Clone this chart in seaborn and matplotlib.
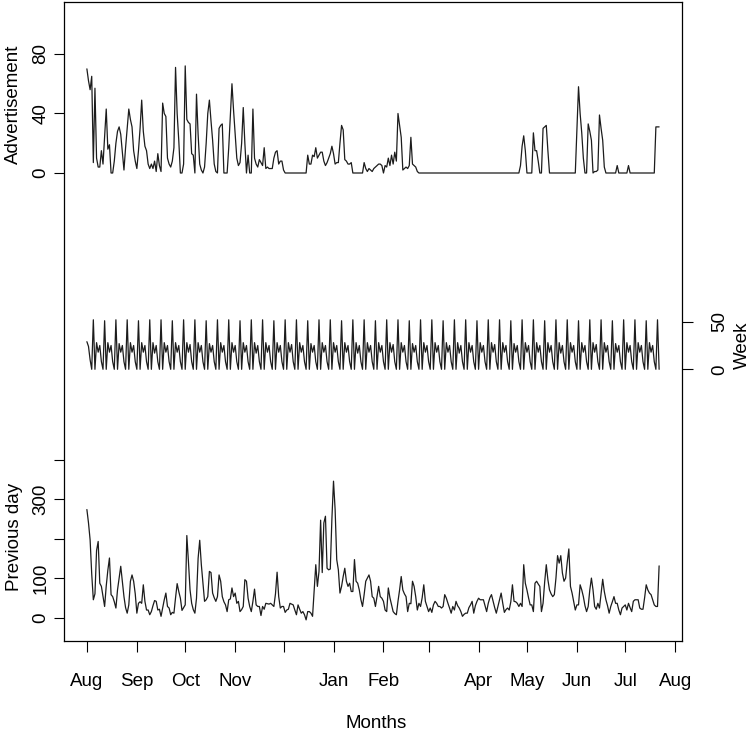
"""
Daily series in one R-style panel: advertisement, weekly pattern and
previous-day counts, each with its own y scale stacked in the same box.
"""
import pandas as pd
import matplotlib
matplotlib.use("Agg")
import matplotlib.pyplot as plt
import seaborn as sns

# ==========================================
# data (daily, starting 2010-08-01)
# ==========================================
START = "2010-08-01"

advertisement = [
    70, 62, 56, 65, 7, 57, 10, 4, 4, 15,
    6, 24, 43, 16, 19, 0, 0, 8, 20, 28,
    31, 26, 14, 2, 17, 30, 43, 36, 31, 15,
    8, 3, 15, 30, 49, 28, 18, 15, 6, 3,
    6, 3, 8, 1, 13, 5, 1, 47, 40, 38,
    10, 6, 4, 8, 17, 71, 40, 22, 0, 0,
    6, 72, 36, 34, 33, 13, 12, 0, 53, 26,
    6, 2, 0, 4, 20, 40, 49, 35, 22, 6,
    1, 0, 30, 32, 33, 0, 0, 0, 17, 38,
    60, 42, 26, 10, 5, 7, 20, 44, 20, 0,
    12, 0, 0, 43, 10, 6, 4, 9, 7, 5,
    17, 3, 4, 3, 3, 3, 10, 14, 15, 6,
    8, 8, 2, 0, 0, 0, 0, 0, 0, 0,
    0, 0, 0, 0, 0, 0, 0, 12, 6, 6,
    12, 11, 17, 10, 12, 14, 14, 8, 5, 7,
    10, 13, 18, 13, 6, 7, 7, 20, 32, 29,
    9, 8, 6, 6, 7, 0, 0, 0, 0, 0,
    0, 0, 7, 3, 1, 3, 2, 1, 3, 4,
    5, 6, 6, 5, 0, 5, 4, 10, 5, 12,
    6, 14, 8, 40, 32, 24, 2, 3, 4, 3,
    5, 24, 6, 5, 4, 1, 0, 0, 0, 0,
    0, 0, 0, 0, 0, 0, 0, 0, 0, 0,
    0, 0, 0, 0, 0, 0, 0, 0, 0, 0,
    0, 0, 0, 0, 0, 0, 0, 0, 0, 0,
    0, 0, 0, 0, 0, 0, 0, 0, 0, 0,
    0, 0, 0, 0, 0, 0, 0, 0, 0, 0,
    0, 0, 0, 0, 0, 0, 0, 0, 0, 5,
    18, 25, 15, 0, 0, 0, 0, 27, 15, 15,
    8, 0, 0, 30, 31, 32, 15, 0, 0, 0,
    0, 0, 0, 0, 0, 0, 0, 0, 0, 0,
    0, 0, 0, 0, 30, 58, 40, 27, 10, 0,
    0, 33, 28, 22, 0, 1, 1, 2, 39, 30,
    22, 4, 0, 0, 0, 0, 0, 0, 0, 5,
    0, 0, 0, 0, 0, 0, 5, 0, 0, 0,
    0, 0, 0, 0, 0, 0, 0, 0, 0, 0,
    0, 0, 0, 31, 31, 31,
]

week = [
    29, 24, 10, 0,
    52, 0, 28, 18, 25, 8, 0,
    51, 0, 28, 18, 25, 8, 0,
    52, 0, 27, 18, 25, 8, 0,
    52, 0, 28, 18, 25, 8, 0,
    51, 0, 28, 18, 25, 8, 0,
    52, 0, 28, 17, 25, 8, 0,
    52, 0, 28, 18, 25, 8, 0,
    51, 0, 28, 18, 25, 8, 0,
    52, 0, 28, 18, 26, 8, 0,
    52, 0, 28, 18, 25, 8, 0,
    51, 0, 27, 18, 25, 8, 0,
    52, 0, 28, 18, 25, 8, 0,
    52, 0, 28, 18, 25, 8, 0,
    51, 0, 28, 18, 25, 8, 0,
    52, 0, 28, 17, 25, 8, 0,
    52, 0, 28, 18, 25, 8, 0,
    51, 0, 28, 18, 25, 8, 0,
    52, 0, 28, 18, 26, 8, 0,
    52, 0, 28, 18, 25, 8, 0,
    51, 0, 27, 18, 25, 8, 0,
    52, 0, 28, 18, 25, 8, 0,
    52, 0, 28, 18, 25, 8, 0,
    51, 0, 28, 18, 25, 8, 0,
    52, 0, 28, 17, 25, 8, 0,
    52, 0, 28, 18, 25, 8, 0,
    51, 0, 28, 18, 25, 8, 0,
    52, 0, 28, 18, 26, 8, 0,
    52, 0, 28, 18, 25, 8, 0,
    51, 0, 27, 18, 25, 8, 0,
    52, 0, 28, 18, 25, 8, 0,
    52, 0, 28, 18, 25, 8, 0,
    51, 0, 28, 18, 25, 8, 0,
    52, 0, 28, 17, 25, 8, 0,
    52, 0, 28, 18, 25, 8, 0,
    51, 0, 28, 18, 25, 8, 0,
    52, 0, 28, 18, 26, 8, 0,
    52, 0, 28, 18, 25, 8, 0,
    51, 0, 27, 18, 25, 8, 0,
    52, 0, 28, 18, 25, 8, 0,
    52, 0, 28, 18, 25, 8, 0,
    51, 0, 28, 18, 25, 8, 0,
    52, 0, 28, 17, 25, 8, 0,
    52, 0, 28, 18, 25, 8, 0,
    51, 0, 28, 18, 25, 8, 0,
    52, 0, 28, 18, 26, 8, 0,
    52, 0, 28, 18, 25, 8, 0,
    51, 0, 27, 18, 25, 8, 0,
    52, 0, 28, 18, 25, 8, 0,
    52, 0, 28, 18, 25, 8, 0,
    51, 0, 28, 18, 25, 8, 0,
    52, 0,
]

previous_day = [
    274, 240, 197, 110, 45, 60, 170, 193, 87, 79,
    53, 28, 80, 120, 151, 58, 53, 40, 24, 70,
    100, 130, 92, 53, 25, 11, 32, 92, 108, 92,
    60, 11, 36, 40, 36, 83, 41, 19, 19, 7,
    15, 30, 43, 41, 19, 21, 3, 24, 45, 62,
    28, 24, 7, 13, 11, 50, 86, 66, 49, 18,
    25, 32, 208, 142, 70, 36, 20, 11, 49, 150,
    196, 134, 87, 41, 45, 53, 117, 114, 62, 50,
    41, 53, 108, 92, 53, 40, 32, 15, 45, 47,
    75, 53, 62, 36, 41, 15, 20, 28, 96, 92,
    49, 28, 15, 41, 72, 32, 28, 28, 5, 28,
    21, 36, 35, 34, 36, 32, 28, 60, 115, 53,
    24, 28, 28, 13, 19, 21, 36, 34, 32, 19,
    7, 32, 21, 11, 15, 7, -6, 15, 15, 11,
    3, 70, 134, 79, 117, 247, 114, 240, 257, 125,
    121, 123, 250, 346, 274, 147, 121, 62, 79, 104,
    125, 92, 79, 87, 66, 66, 147, 92, 87, 70,
    45, 28, 58, 92, 100, 108, 92, 53, 49, 28,
    53, 79, 53, 49, 41, 19, 15, 75, 50, 32,
    15, 10, 7, 41, 70, 104, 70, 60, 53, 15,
    36, 35, 92, 79, 53, 19, 36, 28, 50, 83,
    41, 28, 15, 24, 13, 32, 41, 36, 28, 28,
    24, 28, 58, 49, 36, 24, 11, 28, 19, 41,
    30, 24, 15, 3, 8, 11, 11, 25, 32, 41,
    11, 30, 41, 49, 45, 45, 45, 30, 15, 36,
    50, 58, 41, 25, 11, 28, 45, 62, 36, 13,
    20, 24, 19, 40, 83, 41, 40, 36, 28, 36,
    28, 134, 87, 70, 50, 32, 32, 15, 87, 92,
    85, 79, 15, 36, 90, 134, 96, 70, 60, 53,
    58, 100, 157, 138, 157, 113, 92, 100, 140, 174,
    79, 62, 40, 19, 32, 32, 83, 70, 53, 30,
    15, 28, 70, 100, 70, 28, 21, 36, 24, 60,
    97, 66, 45, 30, 11, 28, 40, 53, 36, 36,
    19, 7, 24, 28, 32, 19, 36, 25, 15, 41,
    45, 45, 45, 24, 21, 21, 50, 83, 70, 62,
    58, 45, 32, 28, 28, 131,
]

month_labels = ["Aug", "Sep", "Oct", "Nov", "", "Jan", "Feb", "",
                "Apr", "May", "Jun", "Jul", "Aug"]
adv_ticks = [0, 40, 80]
week_ticks = [0, 50]
prev_ticks = [0, 100, 200, 300, 400]
prev_labels = ["0", "100", "", "300", ""]

# ==========================================
# layout (pixels of the 753x736 output)
# ==========================================
W, H = 753, 736
BOX_L, BOX_R, BOX_T, BOX_B = 64, 682, 2, 641
LINE = "#1c1c1c"
FS = 13.5


def ylims(zero_px, px_per_unit):
    """y limits so that value 0 sits at zero_px (from the top of the image)."""
    return (-(BOX_B - zero_px) / px_per_unit, (zero_px - BOX_T) / px_per_unit)


def ax_coords(x_px, y_px):
    return ((x_px - BOX_L) / (BOX_R - BOX_L), (BOX_B - y_px) / (BOX_B - BOX_T))


sns.set_style("ticks")
plt.rcParams["font.family"] = ["Liberation Sans", "DejaVu Sans"]
plt.rcParams["text.color"] = "black"
plt.rcParams["axes.labelcolor"] = "black"

fig = plt.figure(figsize=(W / 100, H / 100), dpi=100)
rect = [BOX_L / W, 1 - BOX_B / H, (BOX_R - BOX_L) / W, (BOX_B - BOX_T) / H]
ax_prev = fig.add_axes(rect)
ax_week = fig.add_axes(rect, sharex=ax_prev)
ax_adv = fig.add_axes(rect, sharex=ax_prev)

series = [(ax_adv, advertisement), (ax_week, week), (ax_prev, previous_day)]
for ax, vals in series:
    d = pd.date_range(START, periods=len(vals), freq="D")
    sns.lineplot(x=d, y=vals, ax=ax, color=LINE, linewidth=0.9, estimator=None)
    ax.set_xlabel("")

dates = pd.date_range(START, periods=len(previous_day), freq="D")
pad = (dates[-1] - dates[0]) * 0.04
ax_prev.set_xlim(dates[0] - pad, dates[-1] + pad)

ax_adv.set_ylim(*ylims(173, 59.5 / 40))
ax_week.set_ylim(*ylims(369.3, 47.6 / 50))
ax_prev.set_ylim(*ylims(617.5, 39.4 / 100))

# box + x axis on the bottom layer
for s in ax_prev.spines.values():
    s.set_visible(True)
    s.set_color("black")
    s.set_linewidth(0.9)
month_ticks = pd.date_range("2010-08-01", periods=len(month_labels), freq="MS")
ax_prev.set_xticks(month_ticks)
ax_prev.set_xticklabels(month_labels)
ax_prev.tick_params(axis="x", bottom=True, length=8, width=0.8, pad=15,
                    labelsize=FS, colors="black")
ax_prev.set_xlabel("Months", fontsize=FS, color="black")
ax_prev.xaxis.set_label_coords(*ax_coords(376, 724))
ax_prev.xaxis.label.set_va("center")

ax_prev.set_yticks(prev_ticks)
ax_prev.set_yticklabels(prev_labels)
ax_prev.tick_params(axis="y", left=True, length=7.5, width=0.8, pad=3,
                    labelsize=FS, colors="black")
plt.setp(ax_prev.get_yticklabels(), rotation=90, va="center")
ax_prev.set_ylabel("Previous day", fontsize=FS, color="black")
ax_prev.yaxis.set_label_coords(*ax_coords(15, 537))

# advertisement scale on the left, top part
for s in ax_adv.spines.values():
    s.set_visible(False)
ax_adv.patch.set_visible(False)
ax_adv.tick_params(axis="x", bottom=False, labelbottom=False)
ax_adv.set_yticks(adv_ticks)
ax_adv.set_yticklabels([str(t) for t in adv_ticks])
ax_adv.tick_params(axis="y", left=True, length=7.5, width=0.8, pad=3,
                   labelsize=FS, colors="black")
plt.setp(ax_adv.get_yticklabels(), rotation=90, va="center")
ax_adv.set_ylabel("Advertisement", fontsize=FS, color="black")
ax_adv.yaxis.set_label_coords(*ax_coords(13, 104))

# week scale on the right, middle part
for s in ax_week.spines.values():
    s.set_visible(False)
ax_week.patch.set_visible(False)
ax_week.tick_params(axis="x", bottom=False, labelbottom=False)
ax_week.yaxis.tick_right()
ax_week.yaxis.set_label_position("right")
ax_week.set_yticks(week_ticks)
ax_week.set_yticklabels([str(t) for t in week_ticks])
ax_week.tick_params(axis="y", right=True, left=False, labelright=True,
                    labelleft=False, length=8, width=0.8, pad=13,
                    labelsize=FS, colors="black")
plt.setp(ax_week.get_yticklabels(), rotation=90, va="center")
ax_week.set_ylabel("Week", fontsize=FS, rotation=90, color="black")
ax_week.yaxis.set_label_coords(*ax_coords(742, 345))

for ax in (ax_adv, ax_week, ax_prev):
    lab = ax.yaxis.label
    lab.set_va("center")
    lab.set_ha("center")
    lab.set_rotation_mode("anchor")

fig.savefig("out.png", dpi=100)
plt.close(fig)
print("saved out.png")
